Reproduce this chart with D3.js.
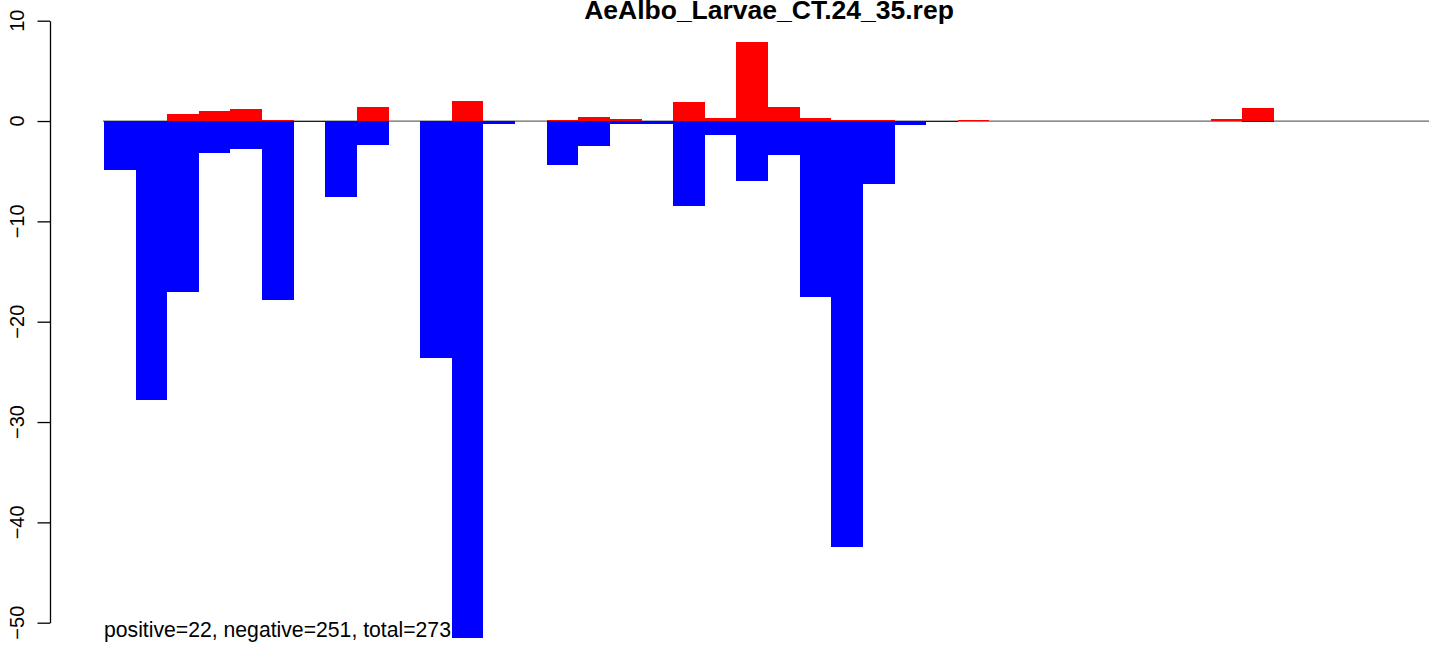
<!DOCTYPE html>
<html>
<head>
<meta charset="utf-8">
<script src="https://cdn.jsdelivr.net/npm/d3@7/dist/d3.min.js"></script>
<style>
  html, body { margin: 0; padding: 0; background: #fff; }
  svg { display: block; font-family: "Liberation Sans", Arial, sans-serif; }
</style>
</head>
<body>
<svg id="chart" width="1429" height="645"></svg>
<script>
const title = "AeAlbo_Larvae_CT.24_35.rep";
const note = "positive=22, negative=251, total=273";
const bins = d3.range(42);
const positiveValues = [0, 0, 0.7, 1.0, 1.2, 0.1, 0, 0, 1.4, 0, 0, 2.0, 0, 0, 0.13, 0.43, 0.2, 0, 1.9, 0.33, 7.87, 1.43, 0.33, 0.13, 0.13, 0, 0, 0.15, 0, 0, 0, 0, 0, 0, 0, 0.2, 1.33, 0, 0, 0, 0, 0];
const negativeValues = [-4.88, -27.8, -17.04, -3.16, -2.8, -17.84, -0.1, -7.57, -2.4, 0, -23.6, -51.5, -0.3, 0, -4.39, -2.5, -0.27, -0.25, -8.47, -1.4, -5.98, -3.4, -17.54, -42.46, -6.28, -0.35, -0.1, 0, 0, 0, 0, 0, 0, 0, 0, 0, -0.1, 0, 0, 0, 0, 0];
const yTicks = [-50, -40, -30, -20, -10, 0, 10];

const svg = d3.select("#chart");
const barW = 31.62;
const x = d3.scaleBand().domain(bins).range([104, 104 + bins.length * barW]).padding(0);
const y = d3.scaleLinear().domain([-50, 10]).range([622.7, 20.7]);

// zero line
svg.append("line")
  .attr("x1", 103).attr("x2", 1429)
  .attr("y1", y(0)).attr("y2", y(0))
  .attr("stroke", "#666").attr("stroke-width", 1.2);

// negative bars
svg.append("g").selectAll("rect").data(bins.filter(i => negativeValues[i] < 0)).join("rect")
  .attr("x", i => x(i))
  .attr("y", y(0))
  .attr("width", x.bandwidth())
  .attr("height", i => y(negativeValues[i]) - y(0))
  .attr("fill", "#0000ff")
  .attr("shape-rendering", "crispEdges");

// positive bars
svg.append("g").selectAll("rect").data(bins.filter(i => positiveValues[i] > 0)).join("rect")
  .attr("x", i => x(i))
  .attr("y", i => y(positiveValues[i]))
  .attr("width", x.bandwidth())
  .attr("height", i => y(0) - y(positiveValues[i]))
  .attr("fill", "#ff0000")
  .attr("shape-rendering", "crispEdges");

// y axis
const axis = svg.append("g")
  .attr("transform", "translate(50,0)")
  .call(d3.axisLeft(y).tickValues(yTicks).tickSize(12.5).tickSizeOuter(0).tickPadding(0).tickFormat(d => ""));
axis.select(".domain").attr("stroke", "#000").attr("stroke-width", 1.3);
axis.selectAll(".tick line").attr("stroke", "#000").attr("stroke-width", 1.3);

svg.append("g").selectAll("text").data(yTicks).join("text")
  .attr("transform", d => `translate(24,${y(d)}) rotate(-90)`)
  .attr("text-anchor", "middle")
  .attr("font-size", 20)
  .attr("fill", "#000")
  .text(d => d < 0 ? "\u2212" + Math.abs(d) : String(d));

// title
svg.append("text")
  .attr("x", 769).attr("y", 19)
  .attr("text-anchor", "middle")
  .attr("font-size", 26.5)
  .attr("font-weight", "bold")
  .text(title);

// note
svg.append("text")
  .attr("x", 104).attr("y", 637)
  .attr("font-size", 21.2)
  .text(note);
</script>
</body>
</html>
